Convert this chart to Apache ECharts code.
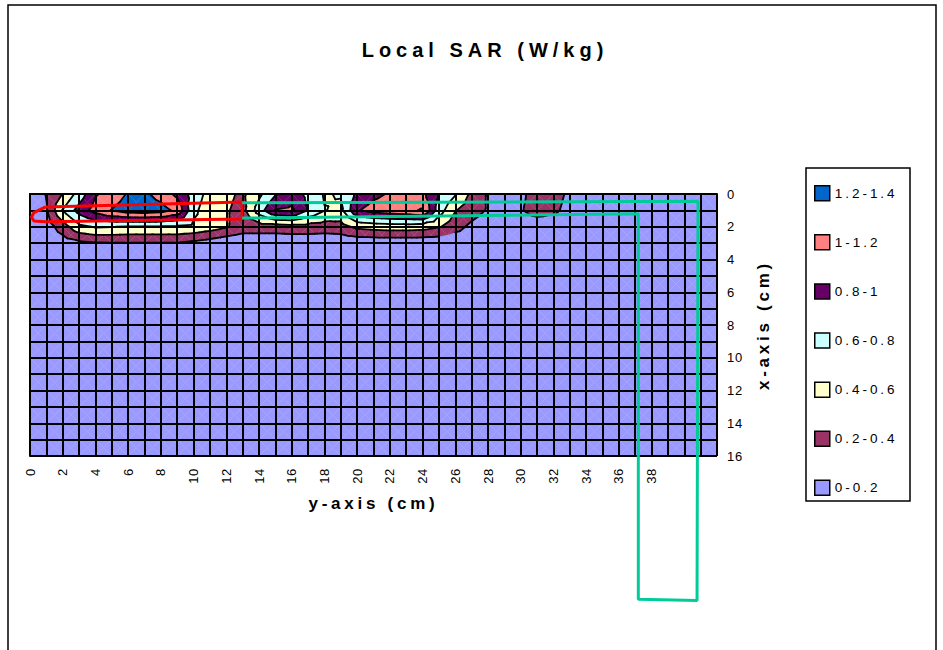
<!DOCTYPE html>
<html>
<head>
<meta charset="utf-8">
<title>Local SAR (W/kg)</title>
<script src="https://cdn.jsdelivr.net/npm/echarts@6/dist/echarts.min.js"></script>
<style>
  html, body { margin: 0; padding: 0; background: #fff; }
  #chart { width: 943px; height: 650px; }
  /* Excel spreads the letters out */
  #chart text { letter-spacing: 0.22em; }
  #chart text[style*="13px"] { letter-spacing: 0.05em; }
  #chart text[style*="20px"] { letter-spacing: 0.25em; }
</style>
</head>
<body>
<div id="chart"></div>
<script>
// SAR (W/kg) at the grid nodes, 1 cm apart; columns are y = 0..42 cm, rows x = 0..3 cm
var sarRow0 = [0.05, 0.21, 0.41, 0.68, 0.98, 1.08, 1.22, 1.24, 1.12, 0.95,
               0.72, 0.52, 0.45, 0.36, 0.55, 0.78, 0.9, 0.75, 0.58, 0.62,
               0.84, 0.95, 1.02, 1.08, 1.05, 0.79, 0.62, 0.35, 0.18, 0.08,
               0.15, 0.3, 0.3, 0.15, 0.05, 0.05, 0.05, 0.05, 0.05, 0.05,
               0.05, 0.05, 0.05];
var sarRow1 = [0.05, 0.18, 0.61, 0.88, 1.08, 1.21, 1.3, 1.32, 1.28, 1.15,
               0.65, 0.48, 0.42, 0.33, 0.7, 1.01, 1.04, 0.79, 0.61, 0.55,
               0.98, 1.08, 1.12, 1.15, 1.22, 0.7, 0.41, 0.3, 0.18, 0.08,
               0.18, 0.3, 0.25, 0.12, 0.05, 0.05, 0.05, 0.05, 0.05, 0.05,
               0.05, 0.05, 0.05];
var sarRow2 = [0.05, 0.1, 0.3, 0.55, 0.62, 0.61, 0.58, 0.58, 0.58, 0.58,
               0.56, 0.5, 0.42, 0.3, 0.3, 0.3, 0.32, 0.32, 0.3, 0.32,
               0.45, 0.48, 0.5, 0.5, 0.48, 0.42, 0.28, 0.15, 0.05, 0.05,
               0.05, 0.05, 0.05, 0.05, 0.05, 0.05, 0.05, 0.05, 0.05, 0.05,
               0.05, 0.05, 0.05];
var sarRow3 = [0.05, 0.05, 0.1, 0.15, 0.18, 0.19, 0.19, 0.19, 0.19, 0.19,
               0.15, 0.1, 0.05, 0.05, 0.05, 0.05, 0.05, 0.05, 0.05, 0.05,
               0.05, 0.05, 0.05, 0.05, 0.05, 0.05, 0.05, 0.05, 0.05, 0.05,
               0.05, 0.05, 0.05, 0.05, 0.05, 0.05, 0.05, 0.05, 0.05, 0.05,
               0.05, 0.05, 0.05];
// from x = 4 cm down to 16 cm every node reads 0-0.2
var sarDeep = 0.05;

var bandLabels = ['0-0.2', '0.2-0.4', '0.4-0.6', '0.6-0.8', '0.8-1', '1-1.2', '1.2-1.4'];
var bandEdges = [0, 0.2, 0.4, 0.6, 0.8, 1, 1.2, 1.4];
var bandColors = ['#9999FF', '#993366', '#FFFFCC', '#CCFFFF', '#660066', '#FF8080', '#0066CC'];

var bottomTickLabels = ['0', '2', '4', '6', '8', '10', '12', '14', '16', '18', '20',
                        '22', '24', '26', '28', '30', '32', '34', '36', '38'];
var rightTickLabels = ['0', '2', '4', '6', '8', '10', '12', '14', '16'];

// drawn shapes over the plot, in cm (y-axis, x-axis)
var antennaOutline = [[0.95, 0.79], [12.97, 0.49], [12.97, 1.53], [0.95, 1.69],
                      [0.24, 1.65], [0.09, 1.4], [0.24, 1.14], [0.95, 0.79]];
var phoneOutline = [[12.97, 0.54], [40.84, 0.44], [40.78, 24.82], [37.19, 24.75],
                    [37.19, 1.21], [12.97, 1.47]];

var sar = [sarRow0, sarRow1, sarRow2, sarRow3];
for (var r = 4; r <= 16; r++) {
  sar.push(sarRow0.map(function () { return sarDeep; }));
}

var cells = [];
for (var j = 0; j < 16; j++) {
  for (var i = 0; i < 42; i++) cells.push([i, j]);
}

// each cell is cut into 4 triangles through its centre, like Excel does
function cellTriangles(i, j) {
  var a = { x: i, y: j, v: sar[j][i] };
  var b = { x: i + 1, y: j, v: sar[j][i + 1] };
  var c = { x: i + 1, y: j + 1, v: sar[j + 1][i + 1] };
  var d = { x: i, y: j + 1, v: sar[j + 1][i] };
  var m = { x: i + 0.5, y: j + 0.5, v: (a.v + b.v + c.v + d.v) / 4 };
  return [[a, b, m], [b, c, m], [c, d, m], [d, a, m]];
}

function clip(poly, level, above) {
  var out = [];
  for (var n = 0; n < poly.length; n++) {
    var p = poly[n], q = poly[(n + 1) % poly.length];
    var pIn = above ? p.v >= level : p.v <= level;
    var qIn = above ? q.v >= level : q.v <= level;
    if (pIn) out.push(p);
    if (pIn !== qIn) {
      var t = (level - p.v) / (q.v - p.v);
      out.push({ x: p.x + t * (q.x - p.x), y: p.y + t * (q.y - p.y), v: level });
    }
  }
  return out;
}

function bandRenderer(k) {
  return function (params, api) {
    var children = [];
    cellTriangles(api.value(0), api.value(1)).forEach(function (tri) {
      var poly = tri;
      if (k > 0) poly = clip(poly, bandEdges[k], true);
      if (poly.length >= 3 && k < bandLabels.length - 1) poly = clip(poly, bandEdges[k + 1], false);
      if (poly.length < 3) return;
      children.push({
        type: 'polygon',
        shape: { points: poly.map(function (p) { return api.coord([p.x, p.y]); }) },
        style: { fill: bandColors[k], stroke: bandColors[k], lineWidth: 0.3 }
      });
    });
    return { type: 'group', children: children };
  };
}

function contourRenderer(params, api) {
  var children = [];
  cellTriangles(api.value(0), api.value(1)).forEach(function (tri) {
    for (var k = 1; k < bandLabels.length; k++) {
      var level = bandEdges[k], pts = [];
      for (var n = 0; n < 3; n++) {
        var p = tri[n], q = tri[(n + 1) % 3];
        if ((p.v - level) * (q.v - level) < 0) {
          var t = (level - p.v) / (q.v - p.v);
          pts.push(api.coord([p.x + t * (q.x - p.x), p.y + t * (q.y - p.y)]));
        }
      }
      if (pts.length === 2) {
        children.push({
          type: 'line',
          shape: { x1: pts[0][0], y1: pts[0][1], x2: pts[1][0], y2: pts[1][1] },
          style: { stroke: '#000', lineWidth: 1.8, lineCap: 'round' }
        });
      }
    }
  });
  return { type: 'group', children: children };
}

var series = bandLabels.map(function (label, k) {
  return {
    name: label,
    type: 'custom',
    coordinateSystem: 'cartesian2d',
    renderItem: bandRenderer(k),
    itemStyle: { color: bandColors[k] },
    data: cells,
    silent: true,
    z: -2
  };
});
series.push({
  type: 'custom',
  coordinateSystem: 'cartesian2d',
  renderItem: contourRenderer,
  data: cells,
  silent: true,
  z: -1
});
series.push({
  type: 'line',
  data: antennaOutline,
  symbol: 'none',
  clip: false,
  silent: true,
  lineStyle: { color: '#FF0000', width: 3 },
  z: 5
});
series.push({
  type: 'line',
  data: phoneOutline,
  symbol: 'none',
  clip: false,
  silent: true,
  lineStyle: { color: '#00CC99', width: 3 },
  z: 5
});

var font = 'Liberation Sans';
var chart = echarts.init(document.getElementById('chart'), null, { renderer: 'svg' });
chart.setOption({
  animation: false,
  backgroundColor: '#fff',
  title: {
    text: 'Local SAR (W/kg)',
    left: 480,
    top: 35,
    textAlign: 'center',
    textStyle: { fontFamily: font, fontSize: 20, fontWeight: 'bold', color: '#000' }
  },
  legend: {
    orient: 'vertical',
    left: 814,
    top: 185,
    padding: 0,
    itemWidth: 15,
    itemHeight: 15,
    itemGap: 32.6,
    icon: 'rect',
    selectedMode: false,
    itemStyle: { borderColor: '#000', borderWidth: 1.5 },
    textStyle: { fontFamily: font, fontSize: 13.5, color: '#000', lineHeight: 15 },
    data: bandLabels.slice().reverse()
  },
  grid: { left: 30, top: 194, width: 687, height: 262 },
  xAxis: {
    type: 'value',
    min: 0,
    max: 42,
    interval: 1,
    position: 'bottom',
    name: 'y-axis (cm)',
    nameLocation: 'middle',
    nameGap: 39,
    nameTextStyle: { fontFamily: font, fontSize: 17, fontWeight: 'bold', color: '#000' },
    axisLine: { lineStyle: { color: '#000', width: 2 } },
    axisTick: { length: 8, lineStyle: { color: '#000', width: 2 } },
    axisLabel: {
      rotate: 90,
      margin: 12,
      fontFamily: font,
      fontSize: 13,
      color: '#000',
      formatter: function (v) {
        return bottomTickLabels.indexOf(String(v)) >= 0 ? String(v) : '';
      }
    },
    splitLine: { show: true, lineStyle: { color: '#000', width: 2 } }
  },
  yAxis: {
    type: 'value',
    min: 0,
    max: 16,
    interval: 1,
    inverse: true,
    position: 'right',
    name: 'x-axis (cm)',
    nameLocation: 'middle',
    nameRotate: 90,
    nameGap: 38,
    nameTextStyle: { fontFamily: font, fontSize: 17, fontWeight: 'bold', color: '#000' },
    axisLine: { lineStyle: { color: '#000', width: 2 } },
    axisTick: { length: 9, lineStyle: { color: '#000', width: 2 } },
    axisLabel: {
      margin: 10,
      fontFamily: font,
      fontSize: 13,
      color: '#000',
      formatter: function (v) {
        return rightTickLabels.indexOf(String(v)) >= 0 ? String(v) : '';
      }
    },
    splitLine: { show: true, lineStyle: { color: '#000', width: 2 } }
  },
  graphic: [
    {
      type: 'rect',
      shape: { x: 8, y: 5, width: 928, height: 660 },
      style: { fill: 'none', stroke: '#000', lineWidth: 1.5 },
      silent: true
    },
    {
      type: 'rect',
      shape: { x: 806, y: 168, width: 104, height: 333 },
      style: { fill: 'none', stroke: '#000', lineWidth: 1.5 },
      silent: true
    }
  ],
  series: series
});
</script>
</body>
</html>
